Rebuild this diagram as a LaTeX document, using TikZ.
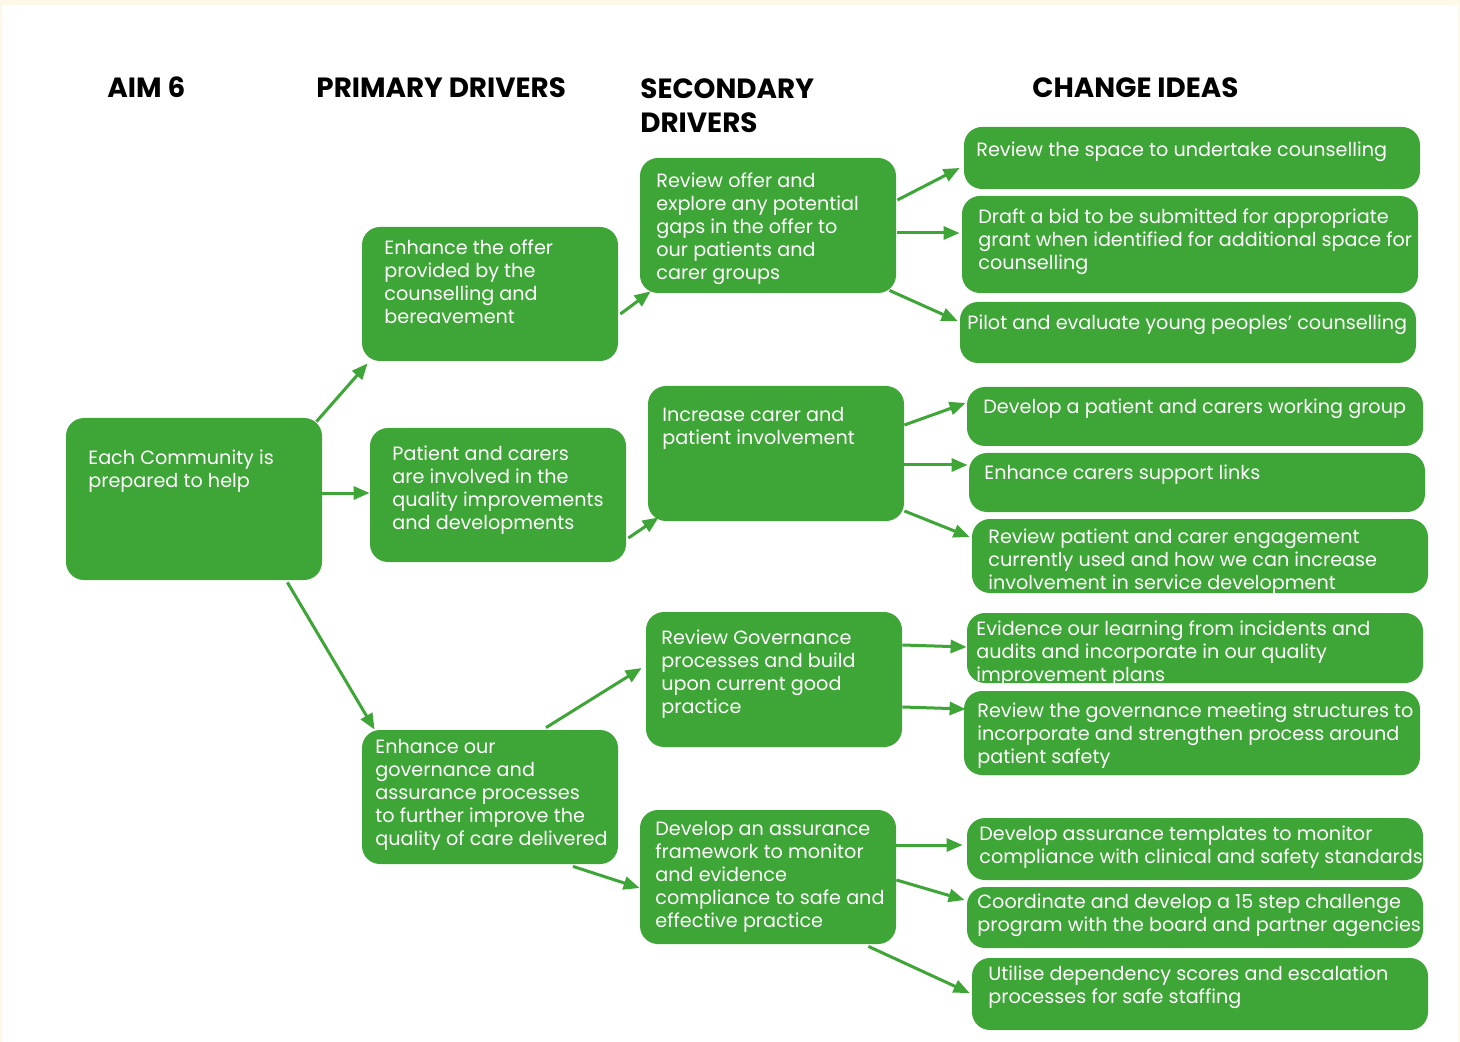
\documentclass[tikz,border=0pt]{standalone}
\usepackage{fontspec}
\setmainfont{Poppins}
\usetikzlibrary{arrows.meta}

\definecolor{drvgreen}{HTML}{3EA537}
\definecolor{paper}{HTML}{FDF8E8}

\tikzset{
    box/.style={fill=drvgreen, rounded corners=9pt, inner sep=0pt},
    txt/.style={text=white, anchor=north west, align=left, inner sep=0pt,
        font=\fontsize{9.6}{11.5}\selectfont},
    hdr/.style={anchor=west, align=left, inner sep=0pt,
        font=\fontsize{13.9}{17}\selectfont\bfseries},
    arr/.style={draw=drvgreen, line width=1.5pt, -{Triangle[length=8pt,width=6.5pt]}}
}

\begin{document}
\begin{tikzpicture}[x=0.5pt, y=-0.5pt]
        \useasboundingbox (0, 0) rectangle (1460, 1042);
        \fill[paper] (0, 0) rectangle (1460, 1042);
        \fill[white] (2, 5) rectangle (1458, 1042);

        \begin{scope}
            % Headings
            \node[hdr] (haim) at (107, 87) {AIM 6};
            \node[hdr] (hprim) at (316, 88) {PRIMARY DRIVERS};
            \node[hdr, anchor=north west] (hsec) at (640, 78) {SECONDARY\\DRIVERS};
            \node[hdr] (hidea) at (1032, 88) {CHANGE IDEAS};
        \end{scope}

        \begin{scope}
            % Aim
            \node[box, minimum width=128pt, minimum height=81pt] (aim) at (194, 499) {};
            \node[txt] (aimt) at (88, 449) {Each Community is\\prepared to help};

            % Primary drivers
            \node[box, minimum width=128pt, minimum height=67pt] (p1) at (490, 294) {};
            \node[txt] (p1t) at (384, 239) {Enhance the offer\\provided by the\\counselling and\\bereavement};
            \node[box, minimum width=128pt, minimum height=67pt] (p2) at (498, 495) {};
            \node[txt] (p2t) at (392, 445) {Patient and carers\\are involved in the\\quality improvements\\and developments};
            \node[box, minimum width=128pt, minimum height=67pt] (p3) at (490, 797) {};
            \node[txt] (p3t) at (375, 739) {Enhance our\\governance and\\assurance processes\\to further improve the\\quality of care delivered};
        \end{scope}

        \begin{scope}
            % Secondary drivers
            \node[box, minimum width=128pt, minimum height=67.5pt] (s1) at (768, 225.5) {};
            \node[txt] (s1t) at (656, 172) {Review offer and\\explore any potential\\gaps in the offer to\\our patients and\\carer groups};
            \node[box, minimum width=128pt, minimum height=67.5pt] (s2) at (776, 453.5) {};
            \node[txt] (s2t) at (662, 407) {Increase carer and\\patient involvement};
            \node[box, minimum width=128pt, minimum height=67.5pt] (s3) at (774, 679.5) {};
            \node[txt] (s3t) at (661, 629) {Review Governance\\processes and build\\upon current good\\practice};
            \node[box, minimum width=128pt, minimum height=67pt] (s4) at (768, 877) {};
            \node[txt] (s4t) at (655, 821) {Develop an assurance\\framework to monitor\\and evidence\\compliance to safe and\\effective practice};
        \end{scope}

        \begin{scope}
            % Change ideas
            \node[box, minimum width=228pt, minimum height=31pt] (c1) at (1192, 158) {};
            \node[txt] (c1t) at (976, 141) {Review the space to undertake counselling};
            \node[box, minimum width=228pt, minimum height=48.5pt] (c2) at (1190, 244.5) {};
            \node[txt] (c2t) at (978, 208) {Draft a bid to be submitted for appropriate\\grant when identified for additional space for\\counselling};
            \node[box, minimum width=228pt, minimum height=30.5pt] (c3) at (1188, 332.5) {};
            \node[txt] (c3t) at (967, 314) {Pilot and evaluate young peoples’ counselling};
            \node[box, minimum width=228pt, minimum height=29.5pt] (c4) at (1195, 416.5) {};
            \node[txt] (c4t) at (983, 398) {Develop a patient and carers working group};
            \node[box, minimum width=228pt, minimum height=29.5pt] (c5) at (1197, 482.5) {};
            \node[txt] (c5t) at (984, 464) {Enhance carers support links};
            \node[box, minimum width=228pt, minimum height=37pt] (c6) at (1200, 556) {};
            \node[txt] (c6t) at (988, 528) {Review patient and carer engagement\\currently used and how we can increase\\involvement in service development};
            \node[box, minimum width=228pt, minimum height=35pt] (c7) at (1195, 648) {};
            \node[txt] (c7t) at (976, 620) {Evidence our learning from incidents and\\audits and incorporate in our quality\\improvement plans};
            \node[box, minimum width=228pt, minimum height=42pt] (c8) at (1192, 733) {};
            \node[txt] (c8t) at (977, 702) {Review the governance meeting structures to\\incorporate and strengthen process around\\patient safety};
            \node[box, minimum width=228pt, minimum height=31pt] (c9) at (1195, 849) {};
            \node[txt] (c9t) at (979, 825) {Develop assurance templates to monitor\\compliance with clinical and safety standards};
            \node[box, minimum width=228pt, minimum height=30.5pt] (c10) at (1195, 917.5) {};
            \node[txt] (c10t) at (977, 893) {Coordinate and develop a 15 step challenge\\program with the board and partner agencies};
            \node[box, minimum width=228pt, minimum height=36pt] (c11) at (1200, 994) {};
            \node[txt] (c11t) at (988, 965) {Utilise dependency scores and escalation\\processes for safe staffing};
        \end{scope}

        \begin{scope}
            % Aim to primary drivers
            \draw[arr] ([shift={(-6, 4)}]aim.north east) -- ([shift={(6, 2)}]p1.south west);
            \draw[arr] ([shift={(0, -6)}]aim.east) -- ([shift={(0, -2)}]p2.west);
            \draw[arr] ([shift={(-35, 2)}]aim.south east) -- ([shift={(13, 0)}]p3.north west);

            % Primary to secondary drivers
            \draw[arr] ([shift={(2, 20)}]p1.east) -- ([shift={(11, -2)}]s1.south west);
            \draw[arr] ([shift={(2, 43)}]p2.east) -- ([shift={(11, -4)}]s2.south west);
            \draw[arr] ([shift={(56, -2)}]p3.north) -- ([shift={(-4, -11.5)}]s3.west);
            \draw[arr] ([shift={(83, 2)}]p3.south) -- ([shift={(0, 11)}]s4.west);

            % Secondary drivers to change ideas
            \draw[arr] ([shift={(1, -25.5)}]s1.east) -- ([shift={(-4, 10)}]c1.west);
            \draw[arr] ([shift={(1, 7.5)}]s1.east) -- ([shift={(-2, -11.5)}]c2.west);
            \draw[arr] ([shift={(-7, -3)}]s1.south east) -- ([shift={(-2, -11.5)}]c3.west);
            \draw[arr] ([shift={(0, -28.5)}]s2.east) -- ([shift={(-1, -13.5)}]c4.west);
            \draw[arr] ([shift={(0, 11.5)}]s2.east) -- ([shift={(-1, -17.5)}]c5.west);
            \draw[arr] ([shift={(0, 57.5)}]s2.east) -- ([shift={(-2, -19)}]c6.west);
            \draw[arr] ([shift={(0, -34.5)}]s3.east) -- ([shift={(0, -1)}]c7.west);
            \draw[arr] ([shift={(0, 27.5)}]s3.east) -- ([shift={(2, -24)}]c8.west);
            \draw[arr] ([shift={(0, -32)}]s4.east) -- ([shift={(-4, -4)}]c9.west);
            \draw[arr] ([shift={(0, 3)}]s4.east) -- ([shift={(-2, -17.5)}]c10.west);
            \draw[arr] ([shift={(-28, 2)}]s4.south east) -- ([shift={(-2, -1)}]c11.west);
        \end{scope}
    \end{tikzpicture}
\end{document}
